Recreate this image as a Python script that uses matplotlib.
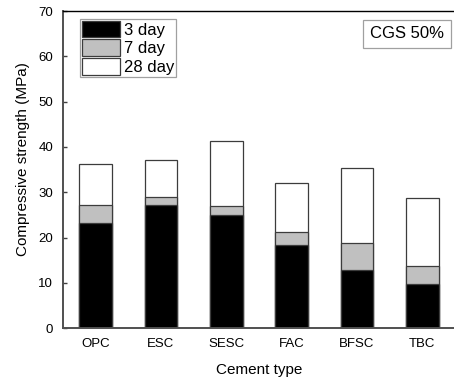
import matplotlib
matplotlib.use("Agg")
import matplotlib.pyplot as plt
import numpy as np

plt.rcParams['font.family'] = ['Liberation Sans', 'DejaVu Sans']

# data (MPa)
cement = ["OPC", "ESC", "SESC", "FAC", "BFSC", "TBC"]
day3 = [23.3, 27.3, 24.9, 18.4, 12.9, 9.7]
day7 = [27.1, 28.9, 26.9, 21.3, 18.8, 13.7]
day28 = [36.2, 37.1, 41.3, 32.1, 35.3, 28.7]

W, H = 454, 379
fig = plt.figure(figsize=(W / 100, H / 100), dpi=100)
ax = fig.add_axes([63 / W, (H - 328.3) / H, (455 - 63) / W, (328.3 - 11) / H])

x = np.arange(1, len(cement) + 1)
edge = '#3c3c3c'
# bars overlap: longest first so the shorter ones sit on top
b28 = ax.bar(x, day28, width=0.5, color='white', edgecolor=edge, linewidth=0.9, label='28 day')
b7 = ax.bar(x, day7, width=0.5, color='#c0c0c0', edgecolor=edge, linewidth=0.9, label='7 day')
b3 = ax.bar(x, day3, width=0.5, color='black', edgecolor=edge, linewidth=0.9, label='3 day')

ax.set_xlim(0.5, 6.5)
ax.set_ylim(0, 70)
ax.set_yticks(np.arange(0, 71, 10))
ax.set_xticks(x)
ax.set_xticklabels(cement)

ax.tick_params(axis='y', direction='in', length=3, width=1, color='#404040', pad=7, labelsize=9.5)
ax.tick_params(axis='x', length=0, pad=7, labelsize=9.5)

for s in ['left', 'bottom']:
    ax.spines[s].set_linewidth(1.4)
    ax.spines[s].set_color('#505050')
ax.spines['top'].set_linewidth(1.0)
ax.spines['top'].set_color('black')
ax.spines['right'].set_visible(False)

ax.set_xlabel("Cement type", fontsize=11, labelpad=9)
ax.set_ylabel("Compressive strength (MPa)", fontsize=11)
ax.yaxis.set_label_coords(-0.084, 0.534)

leg = fig.legend([b3, b7, b28], ['3 day', '7 day', '28 day'],
                 loc='upper left', bbox_to_anchor=(80 / W, 1 - 18.5 / H),
                 fontsize=12, handlelength=2.26, handleheight=1.15,
                 labelspacing=0.1, handletextpad=0.22, borderpad=0.14,
                 borderaxespad=0, fancybox=False, framealpha=1)
leg.get_frame().set_edgecolor('#a0a0a0')
leg.get_frame().set_linewidth(0.9)

fig.text((364 + 450) / 2 / W, 1 - 34 / H, "CGS 50%", fontsize=12,
         ha='center', va='center',
         bbox=dict(boxstyle='square,pad=0.4', facecolor='white',
                   edgecolor='#a0a0a0', linewidth=0.9))

fig.savefig("out.png", dpi=100)
